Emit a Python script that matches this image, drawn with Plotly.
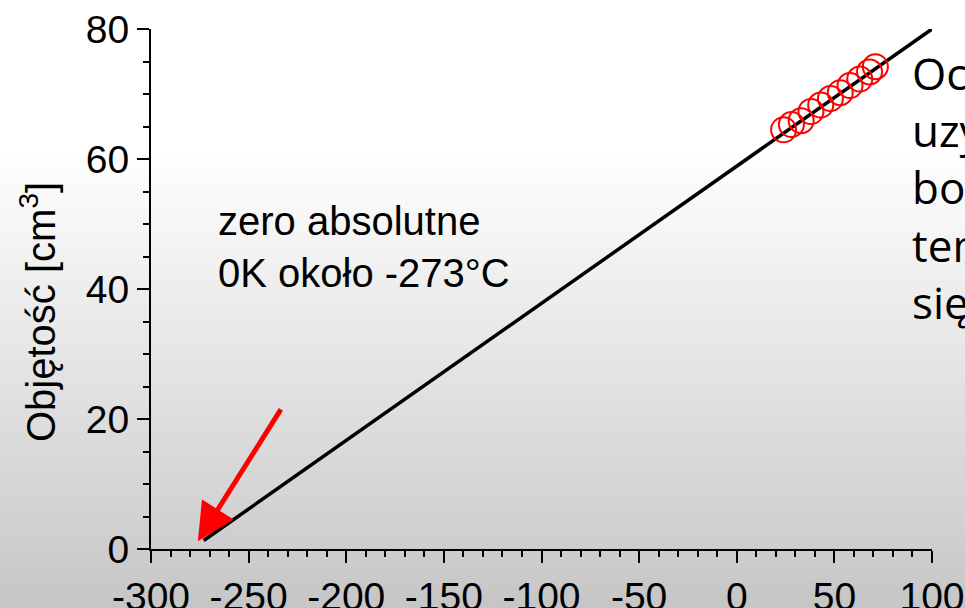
import plotly.graph_objects as go

# Data
temp_c = [24, 28, 33, 38, 43, 48, 53, 58, 63, 68, 71]
volume_cm3 = [64.5, 65.3, 65.9, 67.3, 68.3, 69.3, 70.2, 71.3, 72.3, 73.4, 74.2]
fit_x = [-273, 100]
fit_y = [1.3, 80.0]
arrow_tail = (-233, 21.7)
arrow_head = (-276, 1.2)
x_ticks = [-300, -250, -200, -150, -100, -50, 0, 50, 100]
x_ticklabels = ["-300", "-250", "-200", "-150", "-100", "-50", "0", "50", "100"]
y_ticks = [0, 20, 40, 60, 80]

W, H = 965, 608
L, R, T, B = 151, 33, 29, 59
pw, ph = W - L - R, H - T - B

fig = go.Figure()

fig.add_trace(go.Scatter(x=fit_x, y=fit_y, mode="lines",
                         line=dict(color="black", width=3.5), cliponaxis=True,
                         showlegend=False, hoverinfo="skip"))
fig.add_trace(go.Scatter(x=temp_c, y=volume_cm3, mode="markers",
                         marker=dict(symbol="circle-open", size=25, color="red",
                                     line=dict(color="red", width=2)),
                         showlegend=False, cliponaxis=False))

# background gradient bands
shapes = []
N = 80
for i in range(N):
    py0 = H * i / N
    py1 = H * (i + 1) / N + 1
    pm = (py0 + py1) / 2
    if pm < 150:
        g = 255
    else:
        g = int(round(255 - (pm - 150) / (H - 150) * 57))
    shapes.append(dict(type="rect", xref="paper", yref="paper",
                       x0=-L / pw, x1=(W - L) / pw,
                       y0=(H - B - py1) / ph, y1=(H - B - py0) / ph,
                       fillcolor=f"rgb({g},{g},{g})", line=dict(width=0),
                       layer="below"))

font_main = "Liberation Sans, Arial, sans-serif"

annotations = [
    dict(x=arrow_head[0], y=arrow_head[1], ax=arrow_tail[0], ay=arrow_tail[1],
         xref="x", yref="y", axref="x", ayref="y", text="", showarrow=True,
         arrowhead=2, arrowsize=1.5, arrowwidth=5, arrowcolor="red"),
    dict(x=(216 - 736.5) / 1.9525, y=46.5, xref="x", yref="y", xanchor="left",
         yanchor="middle", align="left", showarrow=False,
         text="zero absolutne<br>0K około -273°C",
         font=dict(family=font_main, size=40, color="black")),
    dict(x=-113 / pw, y=(H - B - 312) / ph, xref="paper", yref="paper", textangle=-90,
         xanchor="center", yanchor="middle",
         showarrow=False, text="Objętość [cm<sup>3</sup>]",
         font=dict(family=font_main, size=40, color="black")),
    dict(x=(910 - L) / pw, y=(H - B - 187) / ph, xref="paper", yref="paper",
         xanchor="left", yanchor="middle", align="left", showarrow=False,
         text="Oczywiście nie można tego<br>uzyskać w praktyce,<br>bo gaz w niskiej<br>temperaturze skrapla<br>się",
         font=dict(family="Open Sans, Noto Sans, sans-serif", size=44, color="black")),
]

fig.update_layout(
    width=W, height=H,
    margin=dict(l=L, r=R, t=T, b=B, autoexpand=False),
    paper_bgcolor="white", plot_bgcolor="rgba(0,0,0,0)",
    shapes=shapes, annotations=annotations,
    xaxis=dict(range=[-300, 100], showgrid=False, zeroline=False,
               showline=True, linecolor="black", linewidth=2,
               ticks="outside", ticklen=12, tickwidth=2, tickcolor="black",
               tickvals=x_ticks, ticktext=x_ticklabels,
               tickfont=dict(family=font_main, size=39, color="black"),
               minor=dict(ticks="outside", ticklen=6, tickwidth=2, tickcolor="black", dtick=10),
               automargin=False),
    yaxis=dict(range=[0, 80], showgrid=False, zeroline=False,
               showline=True, linecolor="black", linewidth=2,
               ticks="outside", ticklen=12, tickwidth=2, tickcolor="black",
               tickvals=y_ticks,
               tickfont=dict(family=font_main, size=39, color="black"),
               minor=dict(ticks="outside", ticklen=6, tickwidth=2, tickcolor="black", dtick=5),
               automargin=False),
)

fig.write_html("out.html", config={"displayModeBar": False},
               post_script="document.body.style.margin='0';document.body.style.overflow='hidden';")
